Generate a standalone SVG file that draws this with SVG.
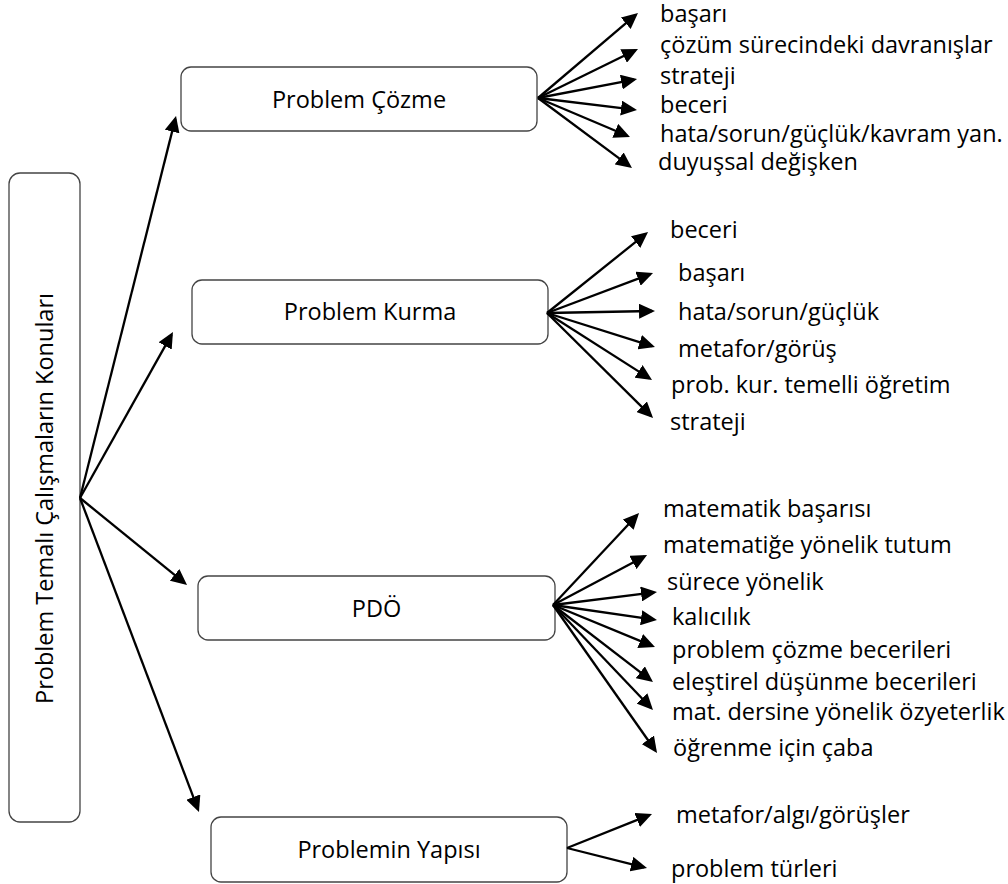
<svg xmlns="http://www.w3.org/2000/svg" width="1008" height="884" viewBox="0 0 1008 884">
<defs>
<style>
text{font-family:"Open Sans","Noto Sans","Liberation Sans",sans-serif;font-size:23.5px;fill:#000}
.box{fill:#fff;stroke:#444;stroke-width:1.3}
.mid{text-anchor:middle}
#connectors line{stroke:#000;stroke-width:2.3;marker-end:url(#ah)}
</style>
<marker id="ah" markerUnits="userSpaceOnUse" markerWidth="17" markerHeight="15" refX="13" refY="7.5" orient="auto">
<path d="M0,0 L16,7.5 L0,15 z" fill="#000"/>
</marker>
</defs>
<rect width="1008" height="884" fill="#fff"/>
<g id="root">
<rect class="box" x="9" y="173" width="71" height="649" rx="11"/>
<text class="mid" transform="translate(53,498.5) rotate(-90)">Problem Temalı Çalışmaların Konuları</text>
</g>
<g id="n-cozme">
<rect class="box" x="181" y="67" width="356" height="64" rx="10"/>
<text class="mid" x="359" y="108">Problem Çözme</text>
</g>
<g id="n-kurma">
<rect class="box" x="192" y="280" width="356" height="64" rx="10"/>
<text class="mid" x="370" y="320">Problem Kurma</text>
</g>
<g id="n-pdo">
<rect class="box" x="198" y="576" width="357" height="64" rx="10"/>
<text class="mid" x="376.5" y="617">PDÖ</text>
</g>
<g id="n-yapi">
<rect class="box" x="211" y="817" width="356" height="65" rx="10"/>
<text class="mid" x="389" y="858">Problemin Yapısı</text>
</g>
<g id="connectors">
<line x1="80" y1="498" x2="175.3" y2="118.9"/>
<line x1="80" y1="498" x2="171.5" y2="334.6"/>
<line x1="80" y1="498" x2="184.7" y2="583.1"/>
<line x1="80" y1="498" x2="197.9" y2="809.2"/>
<line x1="538" y1="98" x2="635.7" y2="14.9"/>
<line x1="538" y1="98" x2="635.3" y2="50.3"/>
<line x1="538" y1="98" x2="634.1" y2="79.6"/>
<line x1="538" y1="98" x2="634" y2="109.6"/>
<line x1="538" y1="98" x2="627.2" y2="135.8"/>
<line x1="538" y1="98" x2="629.6" y2="166.2"/>
<line x1="547" y1="313" x2="645.7" y2="233.9"/>
<line x1="547" y1="313" x2="650.2" y2="274.1"/>
<line x1="547" y1="313" x2="652" y2="311"/>
<line x1="547" y1="313" x2="652.1" y2="346.1"/>
<line x1="547" y1="313" x2="649.5" y2="378.4"/>
<line x1="547" y1="313" x2="650.9" y2="415.9"/>
<line x1="553" y1="605" x2="637" y2="515.2"/>
<line x1="553" y1="605" x2="644.4" y2="556.4"/>
<line x1="553" y1="605" x2="654" y2="592.4"/>
<line x1="553" y1="605" x2="654" y2="619.6"/>
<line x1="553" y1="605" x2="652.2" y2="645.9"/>
<line x1="553" y1="605" x2="650.6" y2="680.2"/>
<line x1="553" y1="605" x2="650.9" y2="707.8"/>
<line x1="553" y1="605" x2="655.3" y2="750.5"/>
<line x1="567" y1="848" x2="649.2" y2="815.1"/>
<line x1="567" y1="848" x2="644.1" y2="867.3"/>
</g>
<g id="labels-cozme">
<text x="660" y="22">başarı</text>
<text x="660" y="53">çözüm sürecindeki davranışlar</text>
<text x="660" y="84">strateji</text>
<text x="660" y="113">beceri</text>
<text x="660" y="142">hata/sorun/güçlük/kavram yan.</text>
<text x="658" y="170">duyuşsal değişken</text>
</g>
<g id="labels-kurma">
<text x="670" y="238">beceri</text>
<text x="678" y="281">başarı</text>
<text x="678" y="320">hata/sorun/güçlük</text>
<text x="678" y="357">metafor/görüş</text>
<text x="671" y="393">prob. kur. temelli öğretim</text>
<text x="670" y="430">strateji</text>
</g>
<g id="labels-pdo">
<text x="663" y="517">matematik başarısı</text>
<text x="663" y="553">matematiğe yönelik tutum</text>
<text x="667" y="590">sürece yönelik</text>
<text x="672" y="625">kalıcılık</text>
<text x="672" y="658">problem çözme becerileri</text>
<text x="672" y="690">eleştirel düşünme becerileri</text>
<text x="672" y="720">mat. dersine yönelik özyeterlik</text>
<text x="673" y="756">öğrenme için çaba</text>
</g>
<g id="labels-yapi">
<text x="676" y="823">metafor/algı/görüşler</text>
<text x="671" y="877">problem türleri</text>
</g>
</svg>
